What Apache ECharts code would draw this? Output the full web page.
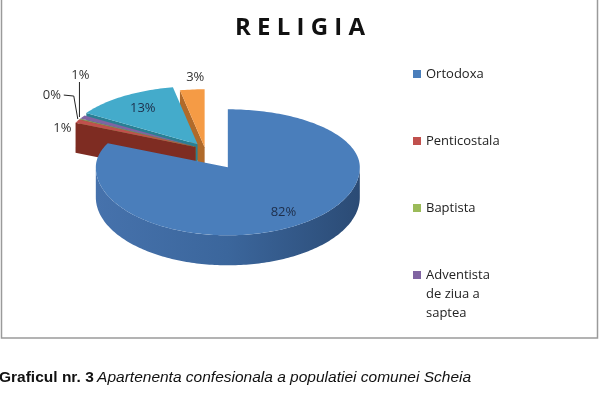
<!DOCTYPE html>
<html>
<head>
<meta charset="utf-8">
<script src="https://cdn.jsdelivr.net/npm/echarts@6/dist/echarts.min.js"></script>
<style>
  html, body { margin: 0; padding: 0; background: #fff; }
  #chart { width: 600px; height: 402px; }
</style>
</head>
<body>
<div id="chart"></div>
<script>
// date grafic
const categories = ['Ortodoxa', 'Penticostala', 'Baptista', 'Adventista de ziua a saptea', 'Greco-catolica', 'Alte culte'];
const values = [82, 1, 0.2, 1, 13, 3];
const legendNames = ['Ortodoxa', 'Penticostala', 'Baptista', 'Adventista de ziua a saptea'];

// stil
const colors = ['#4A7EBB', '#C0504D', '#9BBB59', '#8064A2', '#44ABCB', '#F59B45'];
const faceColors = ['#3A679E', '#7E2C22', '#6C8A38', '#5B4579', '#2A7F93', '#B06A2A'];
const wallColors = [['#4672AC', '#3B669C', '#2B4B75'], ['#7E2C22', '#7E2C22', '#7E2C22'],
  ['#6C8A38', '#6C8A38', '#6C8A38'], ['#5B4579', '#5B4579', '#5B4579'],
  ['#2A7F93', '#2A7F93', '#2A7F93'], ['#B06A2A', '#B06A2A', '#B06A2A']];
const explode = [0.32, 0.08, 0.08, 0.08, 0.1, 0.03];
const labelSpots = [
  { inside: 0.78 },
  { dx: -15, dy: 7 },
  { dx: -28, dy: -24, leader: 'side' },
  { dx: -2, dy: -42, leader: 'below' },
  { inside: 0.74 },
  { dx: 3, dy: -12 }
];

// geometrie pie 3D
const CX = 205, CY = 149, RX = 132, RYB = 58, RYF = 68, H = 30;
const total = values.reduce((a, b) => a + b, 0);
const TAU = Math.PI * 2;

function ry(a) { return Math.cos(a) > 0 ? RYB : RYF; }

function sliceGeom(i) {
  let start = 0;
  for (let k = 0; k < i; k++) start += values[k];
  const a0 = start / total * TAU;
  const a1 = (start + values[i]) / total * TAU;
  const mid = (a0 + a1) / 2;
  const cx = CX + explode[i] * RX * Math.sin(mid);
  const cy = CY - explode[i] * ry(mid) * Math.cos(mid);
  return { a0, a1, mid, cx, cy };
}

// ordinea de desenare: din spate spre fata
const order = values.map((v, i) => i).sort((p, q) => Math.cos(sliceGeom(q).mid) - Math.cos(sliceGeom(p).mid));

function renderSlice(i) {
  const g = sliceGeom(i);
  const rank = order.indexOf(i);
  const rim = (a, dy) => [g.cx + RX * Math.sin(a), g.cy - ry(a) * Math.cos(a) + (dy || 0)];
  const arc = (s, e, dy) => {
    const n = Math.max(2, Math.ceil((e - s) / 0.02));
    const pts = [];
    for (let j = 0; j <= n; j++) pts.push(rim(s + (e - s) * j / n, dy));
    return pts;
  };
  const children = [];
  const face = (a) => ({
    type: 'polygon',
    shape: { points: [[g.cx, g.cy], rim(a), rim(a, H), [g.cx, g.cy + H]] },
    style: { fill: faceColors[i] },
    z2: rank * 10 + 1
  });
  if (Math.sin(g.a0) < -1e-6) children.push(face(g.a0));
  if (Math.sin(g.a1) > 1e-6) children.push(face(g.a1));
  const s = Math.max(g.a0, Math.PI / 2), e = Math.min(g.a1, Math.PI * 1.5);
  if (s < e) {
    const top = arc(s, e);
    const bottom = arc(s, e, H).reverse();
    children.push({
      type: 'polygon',
      shape: { points: top.concat(bottom) },
      style: {
        fill: new echarts.graphic.LinearGradient(0, 0, 1, 0, [
          { offset: 0, color: wallColors[i][0] },
          { offset: 0.5, color: wallColors[i][1] },
          { offset: 1, color: wallColors[i][2] }
        ])
      },
      z2: rank * 10 + 2
    });
  }
  children.push({
    type: 'polygon',
    shape: { points: [[g.cx, g.cy]].concat(arc(g.a0, g.a1)) },
    style: { fill: colors[i] },
    z2: rank * 10 + 5
  });

  // eticheta procent
  const pct = Math.round(values[i] / total * 100) + '%';
  const spot = labelSpots[i];
  let lx, ly;
  const tip = rim(g.mid);
  if (spot.inside) {
    lx = g.cx + (tip[0] - g.cx) * spot.inside;
    ly = g.cy + (tip[1] - g.cy) * spot.inside;
  } else {
    lx = tip[0] + spot.dx;
    ly = tip[1] + spot.dy;
  }
  children.push({
    type: 'text', x: lx, y: ly, z2: 200,
    style: {
      text: pct, align: 'center', verticalAlign: 'middle',
      font: '13px "Open Sans"', fill: spot.inside ? '#1E2E4A' : '#333'
    }
  });
  if (spot.leader === 'side') {
    children.push({
      type: 'polyline', z2: 200,
      shape: { points: [[lx + 12, ly], [tip[0] - 6, ly + 1], [tip[0] - 2, tip[1]]] },
      style: { stroke: '#222', lineWidth: 1, fill: null }
    });
  } else if (spot.leader === 'below') {
    children.push({
      type: 'polyline', z2: 200,
      shape: { points: [[tip[0] - 3, ly + 7], [tip[0] - 3, tip[1]]] },
      style: { stroke: '#222', lineWidth: 1, fill: null }
    });
  }
  return { type: 'group', children };
}

// textul legendei pe mai multe randuri
function wrapName(name) {
  if (name.length <= 12) return name;
  const lines = [];
  let cur = '';
  name.split(' ').forEach(w => {
    if (cur && (cur + ' ' + w).length > 10) { lines.push(cur); cur = w; }
    else cur = cur ? cur + ' ' + w : w;
  });
  lines.push(cur);
  return lines.join('\n');
}

// patratul legendei aliniat cu primul rand de text
const LEGEND_LH = 19, LEGEND_BOX = 58, SQ = 8;
function legendIcon(name) {
  const n = wrapName(name).split('\n').length;
  const c = LEGEND_BOX / 2 - (n - 1) / 2 * LEGEND_LH;
  const t = c - SQ / 2, b = c + SQ / 2;
  return 'path://M0,0L0,0M' + SQ + ',' + LEGEND_BOX + 'L' + SQ + ',' + LEGEND_BOX +
    'M0,' + t + 'L' + SQ + ',' + t + 'L' + SQ + ',' + b + 'L0,' + b + 'Z';
}

function makeLegend(names, top) {
  return {
    orient: 'vertical',
    left: 408,
    top: top,
    itemWidth: SQ,
    itemHeight: LEGEND_BOX,
    itemGap: 67 - LEGEND_BOX,
    selectedMode: false,
    formatter: wrapName,
    textStyle: { fontFamily: 'Open Sans', fontSize: 13, color: '#222', lineHeight: LEGEND_LH },
    data: names.map(n => ({ name: n, icon: legendIcon(n) }))
  };
}

const myChart = echarts.init(document.getElementById('chart'));

const option = {
  animation: false,
  backgroundColor: '#fff',
  title: {
    text: 'R E L I G I A',
    left: 'center',
    top: 11,
    textStyle: { fontFamily: 'Open Sans', fontSize: 24, fontWeight: 'bold', color: '#111' }
  },
  legend: [
    makeLegend(legendNames.slice(0, 3), 40),
    makeLegend(legendNames.slice(3), 260)
  ],
  graphic: [
    {
      type: 'rect', z: -1, silent: true,
      shape: { x: 1.5, y: -2, width: 596, height: 340 },
      style: { fill: '#fff', stroke: '#9A9A9A', lineWidth: 1.5 }
    },
    {
      type: 'text', left: -1, top: 370,
      style: {
        text: '{b|Graficul nr. 3} {i|Apartenenta confesionala a populatiei comunei Scheia}',
        rich: {
          b: { font: 'bold 15.5px "Liberation Sans"', fill: '#111' },
          i: { font: 'italic 15.5px "Liberation Sans"', fill: '#111' }
        }
      }
    }
  ],
  series: categories.map((name, i) => ({
    type: 'custom',
    name: name,
    coordinateSystem: 'none',
    silent: true,
    itemStyle: { color: colors[i] },
    data: [values[i]],
    renderItem: () => renderSlice(i)
  }))
};

myChart.setOption(option);
window.addEventListener('resize', () => myChart.resize());
</script>
</body>
</html>
